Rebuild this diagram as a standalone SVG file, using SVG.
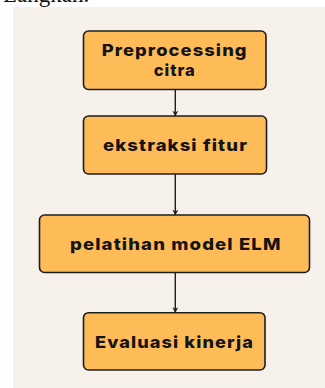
<svg xmlns="http://www.w3.org/2000/svg" width="325" height="388" viewBox="0 0 325 388">
<defs>
<style>
.node rect{fill:#FEBC59;stroke:#1E1E1E;stroke-width:1.6}
.node text{font-family:Inter,"Noto Sans","Liberation Sans",sans-serif;font-weight:800;font-size:16.5px;fill:#141414;text-anchor:middle;letter-spacing:1px}
.conn line{stroke:#1E1E1E;stroke-width:1.4}
</style>
<marker id="ah" viewBox="0 0 10 10" refX="9" refY="5" markerWidth="6" markerHeight="6" orient="auto" markerUnits="userSpaceOnUse">
<path d="M0,0 L10,5 L0,10 L3,5 Z" fill="#1E1E1E"/>
</marker>
</defs>
<rect x="0" y="0" width="325" height="388" fill="#FFFFFF"/>
<text x="3" y="1.5" font-family="Liberation Serif, serif" font-size="23" fill="#111">Langkah.</text>
<rect x="13" y="7" width="312" height="381" fill="#F6F1EA"/>
<g class="conn">
<line x1="175.3" y1="89.5" x2="175.3" y2="116" marker-end="url(#ah)"/>
<line x1="175.3" y1="174" x2="175.3" y2="215" marker-end="url(#ah)"/>
<line x1="175.3" y1="273" x2="175.3" y2="312.5" marker-end="url(#ah)"/>
</g>
<g id="n1" class="node">
<rect x="83.5" y="31" width="182.5" height="58.5" rx="5"/>
<text x="174.7" y="55.5" textLength="146" lengthAdjust="spacingAndGlyphs">Preprocessing</text>
<text x="174.7" y="75.5">citra</text>
</g>
<g id="n2" class="node">
<rect x="83.5" y="116" width="183" height="58" rx="5"/>
<text x="175.5" y="150.5" textLength="145" lengthAdjust="spacingAndGlyphs">ekstraksi fitur</text>
</g>
<g id="n3" class="node">
<rect x="39.5" y="215" width="270" height="57.5" rx="5"/>
<text x="175.8" y="249.5" textLength="211.5" lengthAdjust="spacingAndGlyphs">pelatihan model ELM</text>
</g>
<g id="n4" class="node">
<rect x="83.5" y="312.7" width="181.5" height="57.3" rx="5"/>
<text x="174.5" y="347.5" textLength="159" lengthAdjust="spacingAndGlyphs">Evaluasi kinerja</text>
</g>
</svg>
